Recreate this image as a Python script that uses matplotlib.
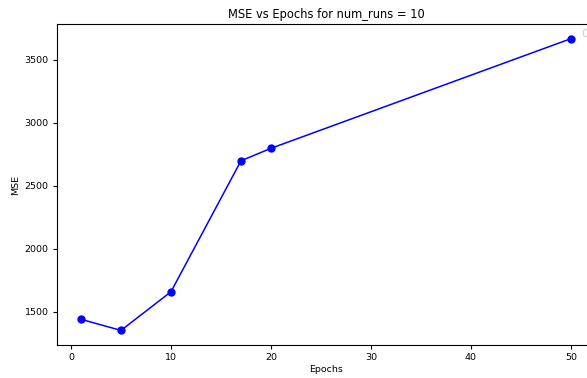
import matplotlib
matplotlib.use("Agg")
import matplotlib.pyplot as plt

epochs = [1, 5, 10, 17, 20, 50]
mse = [1440, 1352, 1659, 2698, 2797, 3667]

plt.rcParams["font.size"] = 6.8
plt.rcParams["axes.titlesize"] = 8.3
plt.rcParams["xtick.major.size"] = 2.8
plt.rcParams["ytick.major.size"] = 2.8
plt.rcParams["xtick.major.pad"] = 2.8
plt.rcParams["ytick.major.pad"] = 2.8

fig = plt.figure(figsize=(5.87, 3.78), dpi=100)
ax = fig.add_axes([0.0963, 0.0873, 0.918, 0.849])
ax.plot(epochs, mse, marker="o", color="blue", linewidth=1.1, markersize=5)
ax.set_title("MSE vs Epochs for num_runs = 10", pad=4.5)
ax.set_xlabel("Epochs", labelpad=2.5)
ax.set_ylabel("MSE", labelpad=3)
ax.legend()
fig.savefig("out.png", dpi=100)
